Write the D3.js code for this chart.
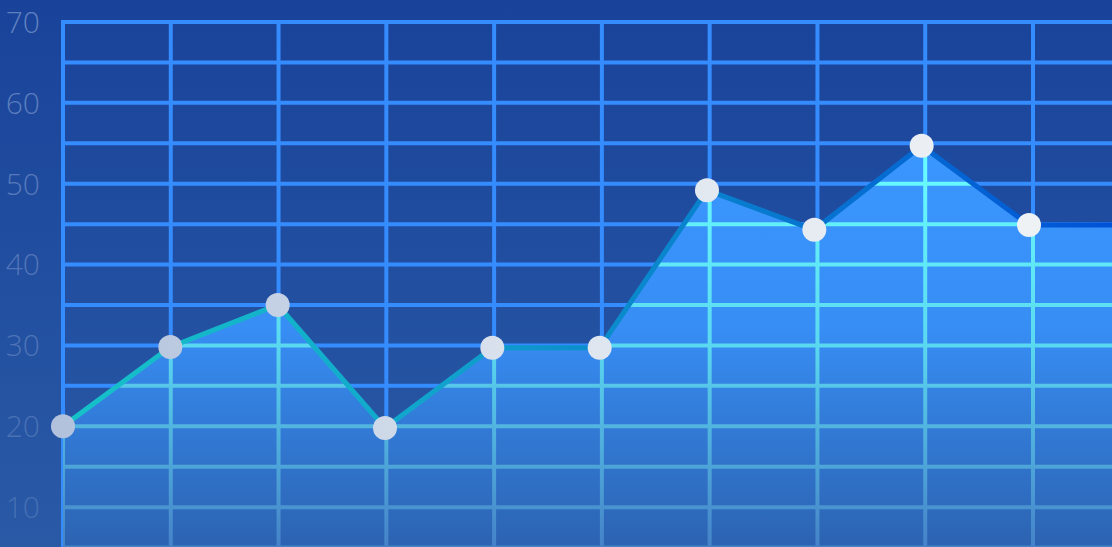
<!DOCTYPE html>
<html>
<head>
<meta charset="utf-8">
<script src="https://cdn.jsdelivr.net/npm/d3@7.8.5/dist/d3.min.js"></script>
<style>
  html, body { margin: 0; padding: 0; background: #1b4595; }
  svg { display: block; }
</style>
</head>
<body>
<div id="chart"></div>
<script>
// chart data
const categories = [0, 1, 2, 3, 4, 5, 6, 7, 8, 9, 10];
const values = [20, 29.8, 35, 19.8, 29.7, 29.7, 49.2, 44.3, 54.7, 44.9, 44.9];
const yTicks = [10, 20, 30, 40, 50, 60, 70];
const gridStepsY = d3.range(0, 75, 5);
const gridStepsX = d3.range(0, 10);

const width = 1112, height = 547;
const margin = { top: 22, left: 63 };

const svg = d3.select('#chart').append('svg')
    .attr('width', width)
    .attr('height', height);

const defs = svg.append('defs');

// background gradient
const bg = defs.append('linearGradient').attr('id', 'bg')
    .attr('x1', 0).attr('y1', 0).attr('x2', 0).attr('y2', 1);
bg.append('stop').attr('offset', '0%').attr('stop-color', '#19439a');
bg.append('stop').attr('offset', '100%').attr('stop-color', '#2a5aa6');

const y = d3.scaleLinear().domain([0, 70]).range([588, margin.top]);
const x = d3.scaleLinear().domain([0, 9]).range([margin.left, 1029]);
const xg = d3.scaleLinear().domain([0, 9]).range([margin.left, 1033]);

// area gradient
const ag = defs.append('linearGradient').attr('id', 'areaGrad')
    .attr('gradientUnits', 'userSpaceOnUse')
    .attr('x1', 0).attr('y1', 146).attr('x2', 0).attr('y2', height);
ag.append('stop').attr('offset', '0%').attr('stop-color', '#3a97ff');
ag.append('stop').attr('offset', '45%').attr('stop-color', '#378ef5');
ag.append('stop').attr('offset', '100%').attr('stop-color', '#2c63b1');

// grid inside area gradient
const gg = defs.append('linearGradient').attr('id', 'gridIn')
    .attr('gradientUnits', 'userSpaceOnUse')
    .attr('x1', 0).attr('y1', 146).attr('x2', 0).attr('y2', height);
gg.append('stop').attr('offset', '0%').attr('stop-color', '#6affff');
gg.append('stop').attr('offset', '50%').attr('stop-color', '#5ad8f0');
gg.append('stop').attr('offset', '100%').attr('stop-color', '#4582c8');

// line gradient (left to right)
const lg = defs.append('linearGradient').attr('id', 'lineGrad')
    .attr('gradientUnits', 'userSpaceOnUse')
    .attr('x1', margin.left).attr('y1', 0).attr('x2', width).attr('y2', 0);
lg.append('stop').attr('offset', '0%').attr('stop-color', '#16c2c8');
lg.append('stop').attr('offset', '30%').attr('stop-color', '#12aacc');
lg.append('stop').attr('offset', '55%').attr('stop-color', '#0a88cc');
lg.append('stop').attr('offset', '100%').attr('stop-color', '#0052d6');

// dot gradient (left to right)
const dg = defs.append('linearGradient').attr('id', 'dotGrad')
    .attr('gradientUnits', 'userSpaceOnUse')
    .attr('x1', margin.left).attr('y1', 0).attr('x2', 1029).attr('y2', 0);
dg.append('stop').attr('offset', '0%').attr('stop-color', '#b2c2dc');
dg.append('stop').attr('offset', '50%').attr('stop-color', '#dce4ee');
dg.append('stop').attr('offset', '100%').attr('stop-color', '#eff2f5');

svg.append('rect')
    .attr('width', width).attr('height', height)
    .attr('fill', 'url(#bg)');

const pts = values.map((v, i) => [x(categories[i]), y(v)]);

const area = d3.area()
    .x(d => d[0])
    .y0(height + 10)
    .y1(d => d[1]);
const line = d3.line()
    .x(d => d[0])
    .y(d => d[1]);

defs.append('clipPath').attr('id', 'areaClip')
    .append('path').attr('d', area(pts));

function drawGrid(g, color) {
    g.selectAll('.hline')
        .data(gridStepsY.filter(v => v <= 70))
        .enter().append('line')
        .attr('x1', margin.left).attr('x2', width)
        .attr('y1', d => y(d)).attr('y2', d => y(d))
        .attr('stroke', color)
        .attr('stroke-width', 4);
    g.selectAll('.vline')
        .data(gridStepsX)
        .enter().append('line')
        .attr('x1', d => xg(d)).attr('x2', d => xg(d))
        .attr('y1', margin.top - 2).attr('y2', height)
        .attr('stroke', color)
        .attr('stroke-width', 4);
}

drawGrid(svg.append('g'), '#358cff');

svg.append('path')
    .attr('d', area(pts))
    .attr('fill', 'url(#areaGrad)');

drawGrid(svg.append('g').attr('clip-path', 'url(#areaClip)'), 'url(#gridIn)');

svg.append('path')
    .attr('d', line(pts))
    .attr('fill', 'none')
    .attr('stroke', 'url(#lineGrad)')
    .attr('stroke-width', 5)
    .attr('stroke-linejoin', 'round');

svg.selectAll('.dot')
    .data(pts.slice(0, 10))
    .enter().append('circle')
    .attr('cx', d => d[0]).attr('cy', d => d[1])
    .attr('r', 12)
    .attr('fill', 'url(#dotGrad)');

// y-axis labels
svg.selectAll('.ylabel')
    .data(yTicks)
    .enter().append('text')
    .attr('x', 40)
    .attr('y', d => y(d))
    .attr('dy', '0.36em')
    .attr('text-anchor', 'end')
    .style('font-family', '"Open Sans", "Noto Sans", sans-serif')
    .style('font-weight', 300)
    .style('font-size', '30px')
    .style('fill', '#8fa8d8')
    .style('fill-opacity', d => 0.3 + (d - 10) / 60 * 0.32)
    .text(d => d);
</script>
</body>
</html>
